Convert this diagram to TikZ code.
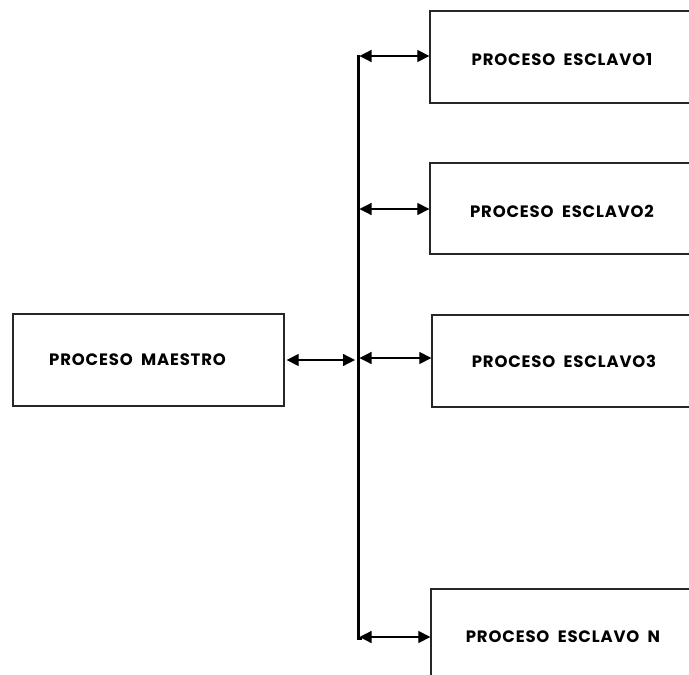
\documentclass[tikz,border=0pt]{standalone}
\usepackage{fontspec}
\setmainfont{Poppins}
\newfontfamily\boxfont[LetterSpace=5]{Poppins}
\usetikzlibrary{arrows.meta}
\newcommand{\lowered}[1]{\raisebox{-3pt}[\height][\depth]{#1}}
\begin{document}
\begin{tikzpicture}[x=1pt,y=-1pt,
  proc/.style={draw=black!85, line width=1.3pt, rectangle, inner sep=0pt,
    font=\boxfont\fontsize{16.5}{18}\selectfont\bfseries},
  tip/.tip={Triangle[length=12pt,width=12pt]},
  link/.style={line width=1.2pt, tip-tip},
  bus/.style={line width=3pt}]
\useasboundingbox (0,0) rectangle (689,675);
\clip (0,0) rectangle (689,675);

% process boxes
\node[proc, minimum width=271pt, minimum height=92pt] (m) at (148.5,360)
  {PROCESO\hspace{4pt} MAESTRO\kern22pt};
\node[proc, minimum width=264pt, minimum height=92pt] (s1) at (562,57)
  {\lowered{PROCESO\hspace{4pt} ESCLAVO1}};
\node[proc, minimum width=264pt, minimum height=91pt] (s2) at (562,208.5)
  {\lowered{PROCESO\hspace{4pt} ESCLAVO2}};
\node[proc, minimum width=264pt, minimum height=92pt] (s3) at (564,361)
  {PROCESO\hspace{4pt} ESCLAVO3};
\node[proc, minimum width=264pt, minimum height=96pt] (sn) at (563,637)
  {PROCESO\hspace{4pt} ESCLAVO\hspace{4pt} N};

% bus
\coordinate (btop) at (358,55);
\coordinate (bbot) at (358,638);
\draw[bus] (btop) -- (bbot) -- ++(4,0);

% links
\coordinate (bm) at (355,360);
\draw[link] (m.east |- 0,360) ++(2,0) coordinate (ms) (ms) -- (bm);
\draw[link] (359.5,56) coordinate (b1) (b1) -- (s1.west |- b1);
\draw[link] (359.5,209) coordinate (b2) (b2) -- (s2.west |- b2);
\draw[link] (359.5,358) coordinate (b3) (b3) -- (s3.west |- b3);
\draw[link] (359.5,637) coordinate (b4) (b4) -- (sn.west |- b4);
\end{tikzpicture}
\end{document}
